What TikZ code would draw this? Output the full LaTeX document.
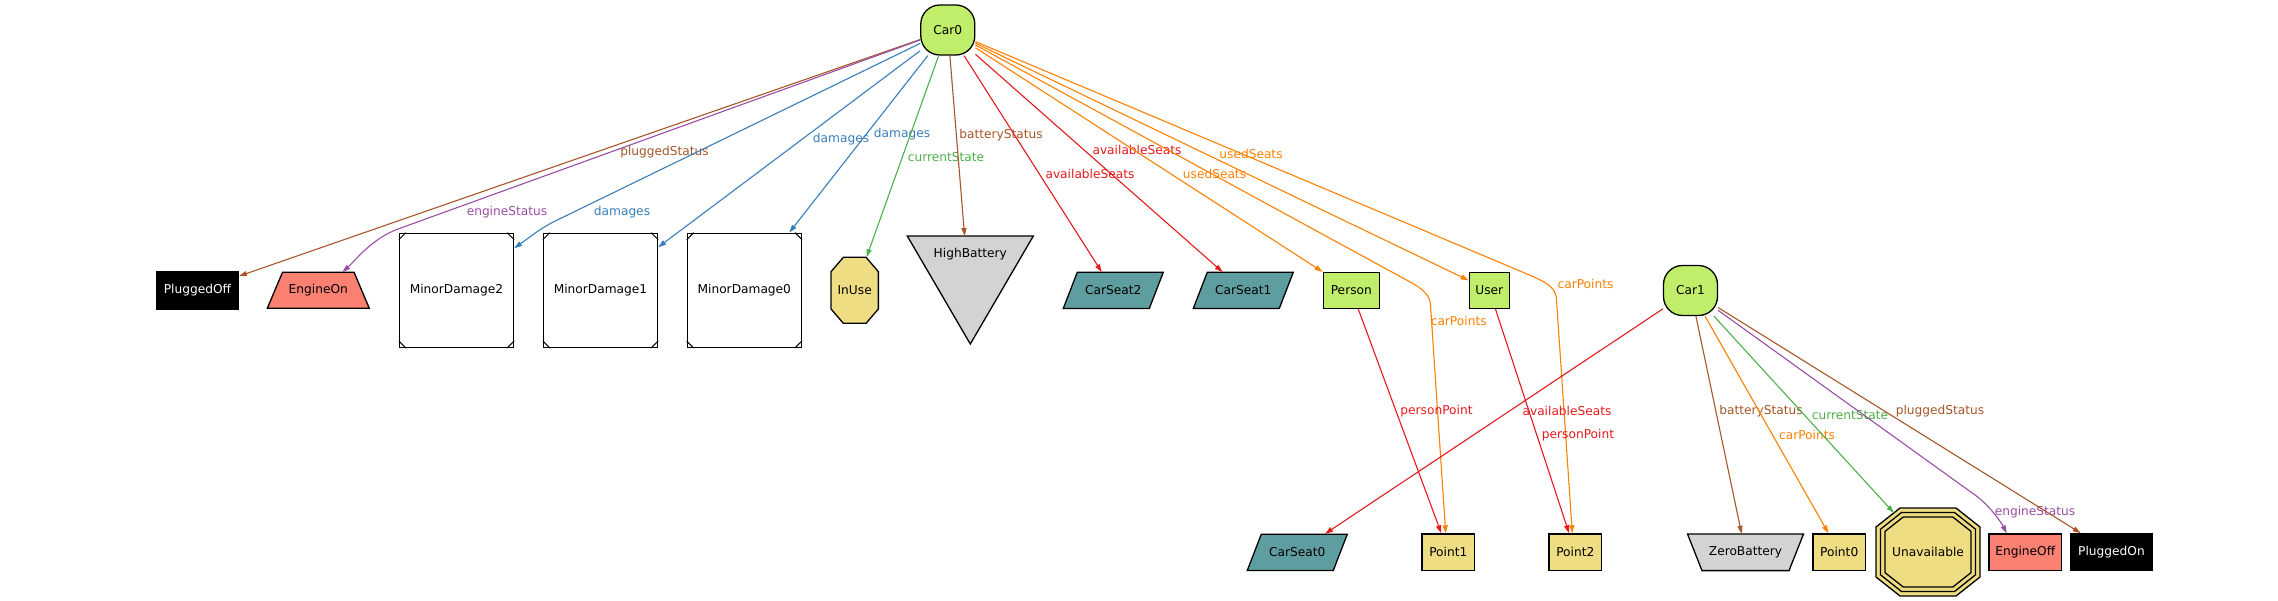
\documentclass[tikz,border=0pt]{standalone}
\usepackage{fontspec}
\setmainfont{DejaVu Sans}
\usetikzlibrary{arrows.meta,calc,backgrounds}
\definecolor{cRed}{HTML}{E41A1C}
\definecolor{cBlue}{HTML}{377EB8}
\definecolor{cGreen}{HTML}{4DAF4A}
\definecolor{cPurple}{HTML}{984EA3}
\definecolor{cOrange}{HTML}{FF7F00}
\definecolor{cBrown}{HTML}{A65628}
\definecolor{fGreen}{HTML}{C0EE6A}
\definecolor{fKhaki}{HTML}{EEDD82}
\definecolor{fSeat}{HTML}{5F9EA0}
\definecolor{fSalmon}{HTML}{FA8072}
\definecolor{fGray}{HTML}{D3D3D3}
\begin{document}
\begin{tikzpicture}[x=1pt,y=-1pt,
  every node/.style={font=\fontsize{12.2}{14}\selectfont, inner sep=0pt},
  border/.style={draw=black, line width=1.3pt},
  carnode/.style={border, rectangle, rounded corners=19pt, fill=fGreen, minimum width=54pt, minimum height=50pt},
  greenbox/.style={border, fill=fGreen, minimum height=36pt},
  khakibox/.style={border, fill=fKhaki, minimum width=52.5pt, minimum height=36.7pt},
  blackbox/.style={border, fill=black, text=white, minimum width=81.5pt, minimum height=37pt},
  salmonbox/.style={border, fill=fSalmon, minimum width=72.7pt, minimum height=36.7pt},
  msq/.style={border, fill=white, minimum width=114pt, minimum height=114pt},
  ghost/.style={draw=none, minimum width=#1},
  e/.style={line width=1.1pt, -{Triangle[length=8pt,width=5pt]}},
  cornermark/.style={line width=1pt}
]
\useasboundingbox (0,0) rectangle (2278,600);

% ---- nodes
\node[carnode] (Car0) at (947.8,30) {Car0};
\node[carnode] (Car1) at (1690.5,290.5) {Car1};
\node[blackbox] (PluggedOff) at (197.5,290.5) {PluggedOff};
\node[ghost=102pt, minimum height=36pt] (EngineOn) at (318.3,290.3) {EngineOn};
\node[msq] (MD2) at (456.5,290.3) {MinorDamage2};
\node[msq] (MD1) at (600.5,290.3) {MinorDamage1};
\node[msq] (MD0) at (744.3,290.3) {MinorDamage0};
\node[ghost=47.3pt, minimum height=66pt] (InUse) at (854.7,290.3) {InUse};
\node (HighBattery) at (970.3,254.3) {HighBattery};
\node[ghost=100pt, minimum height=36pt] (CarSeat2) at (1113.3,290.3) {CarSeat2};
\node[ghost=100pt, minimum height=36pt] (CarSeat1) at (1243.3,290.3) {CarSeat1};
\node[greenbox, minimum width=56pt] (Person) at (1351.3,290.3) {Person};
\node[greenbox, minimum width=40pt] (User) at (1489.3,290.3) {User};
\node[ghost=100pt, minimum height=36.6pt] (CarSeat0) at (1297.3,552.3) {CarSeat0};
\node[khakibox] (Point1) at (1448.3,552.3) {Point1};
\node[khakibox] (Point2) at (1575.3,552.3) {Point2};
\node[ghost=116pt, minimum height=36.6pt] (ZeroBattery) at (1745.5,552.3) {ZeroBattery};
\node[khakibox] (Point0) at (1839.2,552.3) {Point0};
\node[ghost=104pt, minimum height=88pt] (Unavailable) at (1928,552) {Unavailable};
\node[salmonbox] (EngineOff) at (2025.3,552.3) {EngineOff};
\node[blackbox] (PluggedOn) at (2111.5,552.3) {PluggedOn};

% ---- shaped outlines behind the node texts
\begin{pgfonlayer}{background}
  \filldraw[border, fill=fSalmon] ($(EngineOn)+(-35.8,-18)$) -- ($(EngineOn)+(35.8,-18)$)
     -- ($(EngineOn)+(51,18)$) -- ($(EngineOn)+(-51,18)$) -- cycle;
  \filldraw[border, fill=fKhaki] ($(InUse)+(-11.35,-33)$) -- ($(InUse)+(11.35,-33)$)
     -- ($(InUse)+(23.65,-18.65)$) -- ($(InUse)+(23.65,18.65)$) -- ($(InUse)+(11.35,33)$)
     -- ($(InUse)+(-11.35,33)$) -- ($(InUse)+(-23.65,18.65)$) -- ($(InUse)+(-23.65,-18.65)$) -- cycle;
  \filldraw[border, fill=fGray] ($(HighBattery)+(-63,-18.3)$) -- ($(HighBattery)+(63,-18.3)$)
     -- ($(HighBattery)+(0,89.7)$) -- cycle;
  \foreach \n in {CarSeat0,CarSeat1,CarSeat2}
    \filldraw[border, fill=fSeat] ($(\n)+(-36,-18.1)$) -- ($(\n)+(50,-18.1)$)
       -- ($(\n)+(36,18.1)$) -- ($(\n)+(-50,18.1)$) -- cycle;
  \filldraw[border, fill=fGray] ($(ZeroBattery)+(-58,-18.3)$) -- ($(ZeroBattery)+(58,-18.3)$)
     -- ($(ZeroBattery)+(43.5,18.3)$) -- ($(ZeroBattery)+(-43.5,18.3)$) -- cycle;
  \fill[fKhaki] ($(Unavailable)+(-28,-44)$) -- ($(Unavailable)+(28,-44)$)
     -- ($(Unavailable)+(52,-25)$) -- ($(Unavailable)+(52,25)$) -- ($(Unavailable)+(28,44)$)
     -- ($(Unavailable)+(-28,44)$) -- ($(Unavailable)+(-52,25)$) -- ($(Unavailable)+(-52,-25)$) -- cycle;
  \foreach \a/\b/\c/\d in {28/44/52/25, 26.5/39.5/47.5/22.8, 24.8/35/43/20.6}
    \draw[border] ($(Unavailable)+(-\a,-\b)$) -- ($(Unavailable)+(\a,-\b)$)
     -- ($(Unavailable)+(\c,-\d)$) -- ($(Unavailable)+(\c,\d)$) -- ($(Unavailable)+(\a,\b)$)
     -- ($(Unavailable)+(-\a,\b)$) -- ($(Unavailable)+(-\c,\d)$) -- ($(Unavailable)+(-\c,-\d)$) -- cycle;
\end{pgfonlayer}

% ---- Msquare corner marks
\foreach \n in {MD0,MD1,MD2} {
  \draw[cornermark] ($(\n.north west)+(0,7)$) -- ($(\n.north west)+(7,0)$);
  \draw[cornermark] ($(\n.north east)+(-7,0)$) -- ($(\n.north east)+(0,7)$);
  \draw[cornermark] ($(\n.south west)+(0,-7)$) -- ($(\n.south west)+(7,0)$);
  \draw[cornermark] ($(\n.south east)+(-7,0)$) -- ($(\n.south east)+(0,-7)$);
}

% ---- edges from Car0
\draw[e,cBrown] (Car0) -- (PluggedOff) node at (664.5,152) {pluggedStatus};
\draw[e,cPurple] (Car0) -- (398,229) .. controls (371,239) and (353.5,262.4) .. ($(EngineOn.north)+(24,0)$)
  node at (507,212) {engineStatus};
\draw[e,cBlue,rounded corners=10pt] (Car0) -- (545,226) -- ($(MD2.east)+(0,-42)$) node at (622,212) {damages};
\draw[e,cBlue] (Car0) -- (MD1) node at (841,139) {damages};
\draw[e,cBlue] (Car0) -- (MD0) node at (902,134) {damages};
\draw[e,cGreen] (Car0) -- (InUse) node at (946,157) {currentState};
\draw[e,cBrown] (Car0) -- ($(HighBattery)+(-5.7,-18.3)$) node at (1001,135) {batteryStatus};
\draw[e,cRed] (Car0) -- (CarSeat2) node at (1090,174) {availableSeats};
\draw[e,cRed] (Car0) -- (CarSeat1) node at (1137,150) {availableSeats};
\draw[e,cOrange] (Car0) -- (Person) node at (1214.5,174) {usedSeats};
\draw[e,cOrange] (Car0) -- (User) node at (1251,154) {usedSeats};
\draw[e,cOrange] (Car0) -- (1412,283) .. controls (1422.4,289) and (1430,295) .. (1430.5,305)
  -- ($(Point1.north)+(-2.6,0)$) node at (1458.7,320.7) {carPoints};
\draw[e,cOrange] (Car0) -- (1520,271) .. controls (1543,281) and (1556,285) .. (1556.5,300)
  -- ($(Point2.north)+(-3,0)$) node at (1585.5,284.3) {carPoints};

% ---- person points
\draw[e,cRed] (Person) -- (Point1) node at (1436.5,411) {personPoint};
\draw[e,cRed] (User) -- (Point2) node at (1578,435) {personPoint};

% ---- edges from Car1
\draw[e,cRed] (Car1) -- (CarSeat0) node at (1567,411) {availableSeats};
\draw[e,cBrown] (Car1) -- (ZeroBattery) node at (1761,411) {batteryStatus};
\draw[e,cOrange] (Car1) -- (Point0) node at (1807,435) {carPoints};
\draw[e,cGreen] (Car1) -- ($(Unavailable)+(-34,-39)$) node at (1850,415) {currentState};
\draw[e,cPurple] (Car1) -- (1975,495) .. controls (1989.6,505.4) and (2001.3,522.6) .. ($(EngineOff.north)+(-18.6,0)$)
  node at (2035,512) {engineStatus};
\draw[e,cBrown] (Car1) -- (PluggedOn) node at (1940,411) {pluggedStatus};
\end{tikzpicture}
\end{document}
